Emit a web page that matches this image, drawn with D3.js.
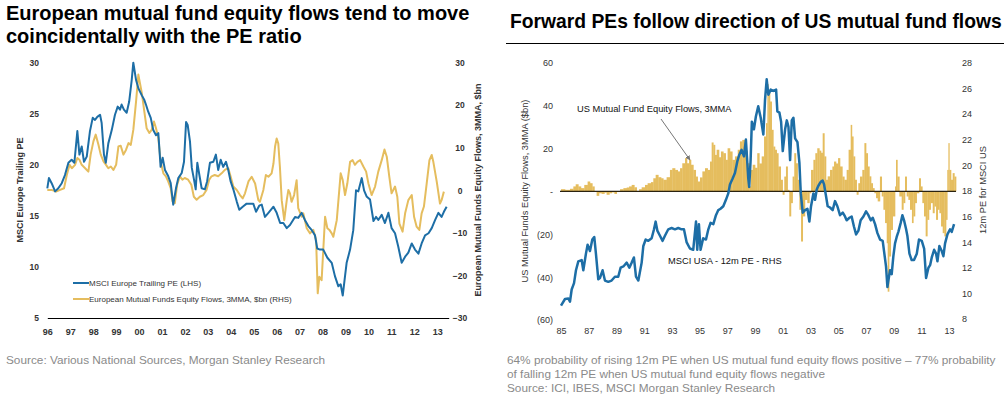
<!DOCTYPE html>
<html><head><meta charset="utf-8">
<script src="https://cdn.jsdelivr.net/npm/d3@7"></script>
<style>body{margin:0;background:#fff;} svg{display:block;font-family:"Liberation Sans",Arial,sans-serif;}</style>
</head><body><svg id="c" width="1006" height="398"></svg>
<script>
// ---------- Left chart data (Europe) ----------
const euPEYears = [1996.00,1996.07,1996.19,1996.34,1996.48,1996.63,1996.77,1996.92,1997.06,1997.18,1997.31,1997.40,1997.50,1997.60,1997.72,1997.86,1997.98,1998.08,1998.18,1998.30,1998.37,1998.47,1998.55,1998.66,1998.81,1998.95,1999.07,1999.17,1999.24,1999.34,1999.46,1999.57,1999.68,1999.75,1999.87,1999.97,2000.12,2000.22,2000.30,2000.40,2000.51,2000.62,2000.74,2000.84,2000.94,2001.03,2001.13,2001.27,2001.38,2001.49,2001.61,2001.71,2001.86,2001.96,2002.05,2002.12,2002.22,2002.30,2002.40,2002.47,2002.54,2002.63,2002.73,2002.87,2002.97,2003.09,2003.24,2003.35,2003.45,2003.56,2003.67,2003.79,2003.89,2003.99,2004.11,2004.26,2004.37,2004.52,2004.69,2004.84,2004.98,2005.10,2005.24,2005.35,2005.49,2005.64,2005.86,2006.00,2006.15,2006.29,2006.44,2006.58,2006.80,2006.94,2007.09,2007.23,2007.38,2007.53,2007.67,2007.77,2007.89,2008.03,2008.21,2008.40,2008.54,2008.69,2008.79,2008.88,2008.98,2009.05,2009.20,2009.34,2009.46,2009.56,2009.71,2009.81,2009.92,2010.07,2010.22,2010.33,2010.43,2010.58,2010.72,2010.87,2011.01,2011.16,2011.30,2011.45,2011.60,2011.74,2011.89,2012.03,2012.18,2012.32,2012.47,2012.62,2012.76,2012.91,2013.05,2013.19,2013.29,2013.41];
const euPE = [17.7,18.7,18.2,17.4,17.7,18.2,19.0,20.2,20.5,20.2,23.3,21.0,21.8,20.3,20.8,23.3,24.6,24.4,24.7,24.9,24.1,21.0,20.2,22.1,23.4,24.9,25.7,25.4,25.9,25.4,25.1,26.2,28.3,30.0,28.3,27.5,26.8,26.4,25.9,25.2,24.6,23.4,22.9,23.1,19.8,20.7,19.5,18.9,18.2,16.1,17.7,18.7,19.2,20.3,24.2,23.9,22.3,19.7,18.5,17.6,20.2,19.0,17.7,17.6,18.4,20.2,20.3,21.0,19.5,20.5,19.8,20.3,19.5,18.4,17.6,16.4,15.6,15.9,16.2,16.2,16.2,15.4,16.0,16.1,14.9,15.3,15.9,15.3,14.3,14.3,13.8,14.1,14.9,14.8,15.3,14.6,14.0,13.6,13.1,11.8,11.7,11.7,10.9,10.4,9.1,8.1,8.3,7.2,9.1,10.4,11.7,13.6,17.5,17.4,18.7,17.5,16.9,16.6,14.5,14.9,14.6,15.1,14.3,15.3,13.8,13.3,12.0,10.4,11.0,11.4,12.3,11.7,11.3,12.3,13.1,13.3,13.8,14.6,15.3,14.9,15.4,15.9];
const euFlowYears = [1996.00,1996.19,1996.38,1996.56,1996.73,1996.85,1996.97,1997.07,1997.21,1997.31,1997.40,1997.50,1997.65,1997.79,1997.89,1998.01,1998.11,1998.23,1998.33,1998.45,1998.56,1998.66,1998.77,1998.88,1999.00,1999.10,1999.20,1999.32,1999.43,1999.54,1999.64,1999.75,1999.87,1999.97,2000.04,2000.12,2000.22,2000.33,2000.45,2000.55,2000.65,2000.74,2000.84,2000.94,2001.06,2001.17,2001.27,2001.38,2001.46,2001.56,2001.66,2001.78,2001.89,2001.99,2002.14,2002.28,2002.39,2002.51,2002.65,2002.80,2002.94,2003.06,2003.16,2003.30,2003.45,2003.60,2003.74,2003.89,2003.99,2004.11,2004.26,2004.40,2004.52,2004.62,2004.77,2004.91,2005.06,2005.20,2005.27,2005.42,2005.53,2005.64,2005.78,2005.86,2005.93,2006.00,2006.07,2006.14,2006.22,2006.33,2006.44,2006.51,2006.58,2006.65,2006.76,2006.87,2006.94,2007.09,2007.16,2007.31,2007.45,2007.60,2007.72,2007.79,2007.86,2007.96,2008.04,2008.11,2008.21,2008.30,2008.40,2008.47,2008.62,2008.73,2008.79,2008.88,2008.98,2009.08,2009.20,2009.31,2009.41,2009.52,2009.64,2009.78,2009.90,2010.00,2010.14,2010.29,2010.43,2010.58,2010.70,2010.80,2010.91,2011.01,2011.16,2011.26,2011.35,2011.49,2011.60,2011.74,2011.89,2011.99,2012.10,2012.22,2012.32,2012.42,2012.54,2012.66,2012.76,2012.83,2012.98,2013.12,2013.19,2013.29];
const euFlows = [0.1,0.1,-0.3,0.1,0.5,3.6,6.0,5.2,6.0,7.6,7.2,6.0,5.2,4.4,8.4,11.5,13.1,10.7,8.4,6.8,6.0,5.2,5.6,4.8,6.0,10.3,10.5,8.4,9.5,11.1,10.7,14.2,20.9,27.2,25.2,22.9,18.9,14.6,13.5,14.2,16.2,14.6,12.3,6.8,4.0,3.3,2.1,0.5,-2.6,-3.0,1.3,3.3,2.5,2.9,2.5,1.3,-1.5,-2.2,-1.5,-1.1,0.1,2.5,3.3,3.6,3.3,4.0,4.8,5.2,3.3,0.9,0.1,-1.1,-1.9,-0.7,2.1,3.2,1.6,-2.3,-2.7,0.1,3.6,3.2,4.0,6.3,10.3,12.2,11.0,5.6,-2.3,-7.0,-2.3,0.1,-0.7,-2.7,-1.1,2.4,-4.2,-6.2,-5.4,-8.9,-10.1,-9.3,-11.7,-24.2,-20.3,-21.1,-13.2,-6.2,-8.9,-9.3,-10.1,-10.9,-7.0,0.1,4.0,2.4,-1.1,1.6,6.7,7.1,6.0,6.7,7.1,5.6,4.4,1.6,-1.1,0.9,4.4,7.1,9.6,7.9,3.2,-0.7,0.9,-1.5,-7.8,-9.7,-5.4,-2.3,-1.1,-6.2,-8.5,-9.3,-5.4,-3.8,1.6,7.1,8.3,6.7,2.0,-3.1,-2.3,-0.3];
const euYearTicks = d3.range(1996, 2014);
const euPETicks = [5,10,15,20,25,30];
const euFlowTicks = [-30,-20,-10,0,10,20,30];

// ---------- Right chart data (US) ----------
const usFlowYears = [1985.00,1985.29,1985.65,1985.89,1986.06,1986.25,1986.44,1986.68,1986.92,1987.09,1987.26,1987.41,1987.57,1987.74,1987.93,1988.13,1988.29,1988.49,1988.66,1988.85,1989.02,1989.26,1989.50,1989.74,1989.91,1990.10,1990.29,1990.46,1990.63,1990.82,1991.06,1991.25,1991.49,1991.66,1991.83,1992.02,1992.22,1992.38,1992.62,1992.86,1993.03,1993.23,1993.42,1993.59,1993.75,1993.95,1994.09,1994.24,1994.38,1994.55,1994.72,1994.86,1995.03,1995.20,1995.39,1995.58,1995.75,1995.87,1995.99,1996.11,1996.23,1996.40,1996.54,1996.71,1996.88,1997.02,1997.19,1997.36,1997.55,1997.75,1997.91,1998.08,1998.28,1998.47,1998.59,1998.70,1998.83,1999.00,1999.16,1999.31,1999.48,1999.65,1999.79,1999.89,1999.96,2000.08,2000.20,2000.32,2000.44,2000.56,2000.68,2000.85,2000.99,2001.11,2001.23,2001.35,2001.47,2001.59,2001.71,2001.83,2001.95,2002.07,2002.20,2002.32,2002.44,2002.60,2002.77,2002.92,2003.04,2003.21,2003.35,2003.49,2003.64,2003.76,2003.88,2004.00,2004.12,2004.24,2004.41,2004.58,2004.70,2004.84,2004.99,2005.13,2005.30,2005.44,2005.61,2005.75,2005.90,2005.99,2006.09,2006.21,2006.33,2006.45,2006.57,2006.74,2006.89,2007.01,2007.13,2007.25,2007.37,2007.49,2007.61,2007.73,2007.85,2008.01,2008.14,2008.26,2008.38,2008.50,2008.57,2008.67,2008.79,2008.93,2009.10,2009.17,2009.27,2009.41,2009.58,2009.70,2009.82,2009.94,2010.06,2010.18,2010.32,2010.42,2010.54,2010.66,2010.83,2010.95,2011.07,2011.19,2011.31,2011.43,2011.55,2011.67,2011.82,2011.94,2012.06,2012.18,2012.30,2012.42,2012.54,2012.66,2012.78,2012.87,2012.95,2013.02,2013.14,2013.26,2013.38];
const usFlows = [1.0,0.7,1.2,2.3,3.3,2.3,1.5,3.0,4.6,3.8,2.3,0.0,-2.1,-0.9,-1.2,-0.6,-1.6,-0.9,-0.5,-1.2,0.0,1.0,1.5,1.8,2.3,3.0,1.9,-0.2,1.0,1.9,3.0,3.8,4.3,6.1,7.7,6.6,6.1,5.4,6.6,10.0,10.8,10.0,9.3,10.8,13.1,15.5,13.1,14.7,12.4,10.0,6.9,4.6,6.5,9.3,10.8,10.0,13.9,22.8,21.7,17.0,19.4,15.9,18.6,17.8,14.7,20.1,18.6,14.7,16.3,19.4,23.3,24.0,19.0,13.1,2.3,10.0,12.4,11.0,17.8,13.0,16.3,25.6,31.8,50.0,45.8,41.9,28.7,20.9,19.4,17.8,11.6,5.4,-1.6,6.9,11.6,0.7,-11.7,-5.5,6.9,17.8,13.1,5.4,-8.6,-23.4,-11.7,-4.0,-5.5,-0.9,10.0,14.7,17.8,20.1,19.0,18.0,27.1,16.3,5.4,7.0,10.0,11.6,13.9,13.0,15.5,11.6,6.9,5.4,10.0,19.4,31.0,25.6,16.3,5.4,-1.6,3.8,6.9,10.0,22.5,17.8,11.6,7.0,3.8,1.5,-0.9,-3.2,-4.7,6.9,-2.4,-8.6,-14.8,-24.2,-46.8,-30.4,-18.0,-11.7,2.3,14.7,6.9,-2.4,-8.6,-5.5,6.9,-2.4,-4.0,-8.6,-14.8,-11.7,-5.5,-0.9,6.1,2.3,-5.5,-11.7,-21.0,-13.3,-8.6,-5.5,-10.2,-7.1,-13.3,-8.6,-10.2,-16.4,-19.5,-21.0,-13.3,10.0,22.5,10.0,5.4,8.5,6.9];
const usPEYears = [1985.00,1985.29,1985.53,1985.65,1985.77,1985.94,1986.08,1986.25,1986.49,1986.61,1986.80,1986.92,1987.09,1987.26,1987.40,1987.52,1987.69,1987.81,1988.00,1988.17,1988.41,1988.65,1988.89,1989.13,1989.30,1989.50,1989.74,1989.93,1990.10,1990.26,1990.41,1990.58,1990.82,1990.94,1991.11,1991.30,1991.54,1991.71,1991.83,1991.95,1992.14,1992.33,1992.50,1992.74,1992.98,1993.22,1993.46,1993.70,1993.87,1994.06,1994.30,1994.54,1994.74,1994.83,1994.95,1995.07,1995.26,1995.46,1995.63,1995.79,1995.99,1996.18,1996.35,1996.51,1996.71,1996.90,1997.07,1997.19,1997.36,1997.55,1997.72,1997.86,1998.03,1998.20,1998.34,1998.51,1998.58,1998.68,1998.77,1998.92,1999.06,1999.23,1999.41,1999.60,1999.72,1999.84,1999.96,2000.13,2000.32,2000.52,2000.61,2000.76,2000.88,2001.00,2001.17,2001.29,2001.41,2001.53,2001.65,2001.77,2001.89,2002.06,2002.20,2002.30,2002.44,2002.61,2002.78,2002.92,2003.04,2003.21,2003.33,2003.45,2003.57,2003.74,2003.88,2003.98,2004.12,2004.24,2004.41,2004.60,2004.77,2004.94,2005.13,2005.33,2005.49,2005.61,2005.81,2005.97,2006.14,2006.29,2006.46,2006.62,2006.82,2007.01,2007.18,2007.35,2007.49,2007.66,2007.83,2008.02,2008.21,2008.33,2008.45,2008.55,2008.62,2008.74,2008.86,2008.98,2009.10,2009.22,2009.34,2009.51,2009.63,2009.75,2009.90,2009.99,2010.14,2010.30,2010.47,2010.67,2010.83,2011.03,2011.20,2011.34,2011.51,2011.63,2011.75,2011.92,2012.06,2012.16,2012.30,2012.47,2012.59,2012.71,2012.88,2013.07,2013.19,2013.36];
const usPE = [9.04,9.56,9.6,9.35,10.3,10.8,11.8,12.5,12.6,11.8,13.1,13.8,13.3,14.2,14.4,13.1,11.1,11.2,11.8,11.0,10.9,11.0,11.3,11.3,12.0,12.1,12.4,12.0,12.4,12.8,11.3,11.0,12.4,13.7,14.2,14.1,14.3,15.0,15.6,14.9,14.5,14.1,14.5,15.0,15.1,15.0,15.1,15.0,15.0,14.0,13.5,13.4,15.6,13.4,15.4,13.4,14.3,14.2,15.0,15.5,15.4,16.1,16.5,16.6,16.8,17.3,17.8,18.5,18.9,19.4,20.3,20.8,21.2,20.7,22.0,19.0,18.3,20.4,23.4,22.8,23.8,24.6,23.7,22.4,25.1,26.7,25.5,25.9,25.8,25.9,24.2,24.1,23.4,21.1,22.8,23.5,23.0,20.4,23.5,23.7,22.1,21.8,20.2,17.8,16.3,16.5,16.6,15.6,16.8,17.8,17.3,18.1,18.4,18.7,18.8,18.5,17.6,16.8,16.7,16.5,17.2,16.8,16.1,16.3,16.0,15.7,15.9,16.0,15.2,14.6,14.9,15.7,16.0,16.4,16.1,15.7,15.9,15.4,14.7,14.2,14.1,13.1,12.1,10.5,11.0,11.8,11.5,12.9,13.9,14.4,14.8,15.5,16.1,15.7,15.0,14.5,13.1,12.6,12.6,13.1,14.2,14.1,13.5,11.2,12.0,12.2,12.8,13.4,13.1,12.5,13.7,13.3,12.9,13.9,14.6,15.0,14.8,15.4];
const usYearTicks = d3.range(1985, 2014, 2);
const usFlowTicks = [-60,-40,-20,0,20,40,60];
const usPETicks = [8,10,12,14,16,18,20,22,24,26,28];

// ---------- drawing ----------
const BLUE = "#1d6ea6", GOLD = "#e5bd5e", TXT = "#333";
const svg = d3.select("#c");
const yy = v => String(v % 100).padStart(2, "0");

// ===== Left chart =====
const xL = d3.scaleLinear().domain([1996, 2013.5]).range([47.3, 448.7]);
const yPE = d3.scaleLinear().domain([5, 30]).range([318, 62.7]);
const yFl = d3.scaleLinear().domain([-30, 30]).range([318, 62.7]);

svg.append("text").attr("x", 6).attr("y", 20).attr("font-size", 20).attr("font-weight", "bold").attr("fill", "#000")
  .text("European mutual fund equity flows tend to move");
svg.append("text").attr("x", 6).attr("y", 43).attr("font-size", 20).attr("font-weight", "bold").attr("fill", "#000")
  .text("coincidentally with the PE ratio");

const gxL = svg.append("g").attr("transform", "translate(0,318)")
  .call(d3.axisBottom(xL).tickValues(euYearTicks).tickFormat(yy).tickSize(0).tickSizeOuter(0).tickPadding(11));
gxL.select(".domain").attr("stroke", "#000").attr("stroke-width", 1);
gxL.selectAll("text").attr("font-size", 9).attr("font-weight", "bold").attr("fill", TXT).attr("font-family", null);

const gyL = svg.append("g").attr("transform", "translate(39,0)")
  .call(d3.axisLeft(yPE).tickValues(euPETicks).tickSize(0).tickPadding(0));
gyL.select(".domain").remove();
gyL.selectAll("text").attr("font-size", 8.5).attr("font-weight", "bold").attr("fill", TXT).attr("font-family", null);

const gyR = svg.append("g").attr("transform", "translate(452,0)")
  .call(d3.axisRight(yFl).tickValues(euFlowTicks).tickSize(0).tickPadding(0));
gyR.select(".domain").remove();
gyR.selectAll("text").attr("font-size", 8.5).attr("font-weight", "bold").attr("fill", TXT).attr("font-family", null)
  .attr("text-anchor", "middle").attr("x", 8);

svg.append("text").attr("transform", "translate(20,190) rotate(-90)").attr("text-anchor", "middle").attr("dy", "0.35em")
  .attr("font-size", 9).attr("font-weight", "bold").attr("fill", TXT).text("MSCI Europe Trailing PE");
svg.append("text").attr("transform", "translate(478,190) rotate(-90)").attr("text-anchor", "middle").attr("dy", "0.35em")
  .attr("font-size", 9).attr("font-weight", "bold").attr("fill", TXT).text("European Mutual Funds Equity Flows, 3MMA, $bn");

const flowLine = d3.line().x(d => xL(d[0])).y(d => yFl(d[1]));
const peLine = d3.line().x(d => xL(d[0])).y(d => yPE(d[1]));
svg.append("path").datum(d3.zip(euFlowYears, euFlows)).attr("d", flowLine)
  .attr("fill", "none").attr("stroke", GOLD).attr("stroke-width", 2).attr("stroke-linejoin", "round");
svg.append("path").datum(d3.zip(euPEYears, euPE)).attr("d", peLine)
  .attr("fill", "none").attr("stroke", BLUE).attr("stroke-width", 2).attr("stroke-linejoin", "round");

// legend
[[283, BLUE, "MSCI Europe Trailing PE (LHS)"], [299, GOLD, "European Mutual Funds Equity Flows, 3MMA, $bn (RHS)"]]
  .forEach(([y, c, t]) => {
    svg.append("line").attr("x1", 73).attr("x2", 89).attr("y1", y).attr("y2", y).attr("stroke", c).attr("stroke-width", 2);
    svg.append("text").attr("x", 89).attr("y", y).attr("dy", "0.35em").attr("font-size", 8).attr("fill", TXT).text(t);
  });

svg.append("text").attr("x", 6).attr("y", 364).attr("font-size", 11.8).attr("fill", "#8a8a8a")
  .text("Source: Various National Sources, Morgan Stanley Research");

// ===== Right chart =====
const xR = d3.scaleLinear().domain([1985, 2013.6]).range([561, 957.4]);
const yUF = d3.scaleLinear().domain([-60, 60]).range([320, 62.7]);
const yUP = d3.scaleLinear().domain([8, 28]).range([319, 62.7]);

svg.append("text").attr("x", 510).attr("y", 28).attr("font-size", 19.3).attr("font-weight", "bold").attr("fill", "#000")
  .text("Forward PEs follow direction of US mutual fund flows");
svg.append("line").attr("x1", 506).attr("x2", 1004).attr("y1", 43.5).attr("y2", 43.5).attr("stroke", "#000").attr("stroke-width", 1);

const fmtFlow = d => d > 0 ? String(d) : d === 0 ? "-" : "(" + (-d) + ")";
const gl = svg.append("g").attr("transform", "translate(553,0)")
  .call(d3.axisLeft(yUF).tickValues(usFlowTicks).tickFormat(fmtFlow).tickSize(0).tickPadding(0));
gl.select(".domain").remove();
gl.selectAll("text").attr("font-size", 9).attr("fill", TXT).attr("font-family", null);

const gr = svg.append("g").attr("transform", "translate(962,0)")
  .call(d3.axisRight(yUP).tickValues(usPETicks).tickSize(0).tickPadding(0));
gr.select(".domain").remove();
gr.selectAll("text").attr("font-size", 9).attr("fill", TXT).attr("font-family", null);

const gx = svg.append("g").attr("transform", "translate(0,320)")
  .call(d3.axisBottom(xR).tickValues(usYearTicks).tickFormat(yy).tickSize(0).tickPadding(8));
gx.select(".domain").remove();
gx.selectAll("text").attr("font-size", 9).attr("fill", TXT).attr("font-family", null);

svg.append("text").attr("transform", "translate(525,191) rotate(-90)").attr("text-anchor", "middle").attr("dy", "0.35em")
  .attr("font-size", 9.3).attr("fill", TXT).text("US Mutual Funds Equity Flows, 3MMA ($bn)");
svg.append("text").attr("transform", "translate(983,190) rotate(-90)").attr("text-anchor", "middle").attr("dy", "0.35em")
  .attr("font-size", 9.3).attr("fill", TXT).text("12m PE for MSCI US");

// bars
const bars = d3.zip(usFlowYears, usFlows);
svg.append("g").selectAll("rect").data(bars).join("rect")
  .attr("x", d => xR(d[0]))
  .attr("width", (d, i) => (i < bars.length - 1 ? xR(bars[i + 1][0]) - xR(d[0]) : 1.7) + 0.3)
  .attr("y", d => Math.min(yUF(d[1]), yUF(0)))
  .attr("height", d => Math.abs(yUF(d[1]) - yUF(0)))
  .attr("fill", GOLD);

svg.append("line").attr("x1", 560).attr("x2", 956).attr("y1", yUF(0)).attr("y2", yUF(0))
  .attr("stroke", "#2a2210").attr("stroke-width", 1.3);

svg.append("path").datum(d3.zip(usPEYears, usPE))
  .attr("d", d3.line().x(d => xR(d[0])).y(d => yUP(d[1])))
  .attr("fill", "none").attr("stroke", BLUE).attr("stroke-width", 2.5).attr("stroke-linejoin", "round");

// annotations
svg.append("defs").append("marker").attr("id", "ah").attr("viewBox", "0 0 10 10").attr("refX", 9).attr("refY", 5)
  .attr("markerWidth", 5).attr("markerHeight", 5).attr("orient", "auto")
  .append("path").attr("d", "M0,0L10,5L0,10z").attr("fill", "#777");
svg.append("text").attr("x", 577).attr("y", 109).attr("dy", "0.35em").attr("font-size", 9.3).attr("fill", "#111")
  .text("US Mutual Fund Equity Flows, 3MMA");
svg.append("line").attr("x1", 661).attr("y1", 119).attr("x2", 690).attr("y2", 160)
  .attr("stroke", "#777").attr("stroke-width", 1).attr("marker-end", "url(#ah)");
svg.append("text").attr("x", 668).attr("y", 261).attr("dy", "0.35em").attr("font-size", 9.3).attr("fill", "#111")
  .text("MSCI USA - 12m PE - RHS");

const notes = ["64% probability of rising 12m PE when US mutual fund equity flows positive \u2013 77% probability",
  "of falling 12m PE when US mutual fund equity flows negative",
  "Source: ICI, IBES, MSCI Morgan Stanley Research"];
notes.forEach((t, i) => svg.append("text").attr("x", 507).attr("y", 364 + i * 14).attr("font-size", 11.8)
  .attr("fill", "#8a8a8a").text(t));
</script></body></html>
